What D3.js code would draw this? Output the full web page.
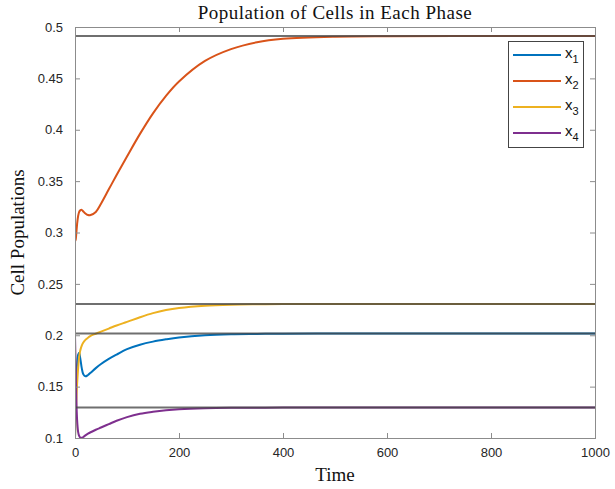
<!DOCTYPE html>
<html>
<head>
<meta charset="utf-8">
<script src="https://cdn.jsdelivr.net/npm/d3@7"></script>
<style>
  body { margin: 0; background: #fff; }
  svg { display: block; }
</style>
</head>
<body>
<script>
// ---- data ----
const time = [0, 1, 2, 4, 6, 8, 10, 13, 16, 20, 25, 30, 40, 50, 65, 80, 100, 125, 150, 175, 200, 250, 300, 350, 400, 500, 600, 800, 1000];
const x1 = [0.100, 0.125, 0.150, 0.172, 0.181, 0.183, 0.178, 0.168, 0.162, 0.160, 0.1613, 0.1635, 0.1680, 0.1720, 0.1770, 0.1812, 0.1865, 0.1908, 0.1938, 0.1960, 0.1978, 0.2000, 0.2010, 0.2013, 0.2015, 0.2016, 0.2016, 0.2016, 0.2016];
const x2 = [0.300, 0.292, 0.296, 0.308, 0.316, 0.320, 0.3215, 0.322, 0.3205, 0.3185, 0.317, 0.317, 0.320, 0.328, 0.342, 0.356, 0.374, 0.396, 0.416, 0.433, 0.447, 0.467, 0.4785, 0.4852, 0.4885, 0.4906, 0.4911, 0.4912, 0.4912];
const x3 = [0.100, 0.115, 0.130, 0.152, 0.168, 0.179, 0.185, 0.190, 0.193, 0.1955, 0.1975, 0.1995, 0.2015, 0.2035, 0.2065, 0.2095, 0.213, 0.2175, 0.2215, 0.2245, 0.2265, 0.2287, 0.2297, 0.2301, 0.2303, 0.2303, 0.2303, 0.2303, 0.2303];
const x4 = [0.200, 0.175, 0.150, 0.118, 0.106, 0.102, 0.1005, 0.1002, 0.101, 0.1025, 0.1042, 0.1056, 0.1080, 0.1102, 0.1135, 0.1168, 0.1203, 0.1235, 0.1255, 0.1270, 0.1280, 0.1290, 0.1294, 0.1295, 0.1296, 0.1296, 0.1296, 0.1296, 0.1296];
const steadyStates = [0.4912, 0.2303, 0.2016, 0.1296];
const seriesNames = ["x1", "x2", "x3", "x4"];
const seriesColors = ["#0072BD", "#D95319", "#EDB120", "#7E2F8E"];
const xTicks = [0, 200, 400, 600, 800, 1000];
const yTicks = [0.1, 0.15, 0.2, 0.25, 0.3, 0.35, 0.4, 0.45, 0.5];
const titleText = "Population of Cells in Each Phase";
const xLabel = "Time";
const yLabel = "Cell Populations";

// ---- layout ----
const W = 615, H = 489;
const m = { left: 75, right: 20, top: 27, bottom: 51 };
const pw = W - m.left - m.right, ph = H - m.top - m.bottom;

const svg = d3.select("body").append("svg").attr("width", W).attr("height", H);
const g = svg.append("g").attr("transform", `translate(${m.left},${m.top})`);

const x = d3.scaleLinear().domain([0, 1000]).range([0, pw]);
const y = d3.scaleLinear().domain([0.1, 0.5]).range([ph, 0]);

g.append("rect").attr("width", pw).attr("height", ph).attr("fill", "#fff");

svg.append("clipPath").attr("id", "clip").append("rect").attr("width", pw).attr("height", ph);

const series = [x1, x2, x3, x4];
const line = d3.line().x(d => x(d[0])).y(d => y(d[1])).curve(d3.curveCatmullRom.alpha(0.5));
const plot = g.append("g").attr("clip-path", "url(#clip)");
series.forEach((s, i) => {
  plot.append("path")
    .datum(time.map((t, k) => [t, s[k]]))
    .attr("d", line)
    .attr("fill", "none")
    .attr("stroke", seriesColors[i])
    .attr("stroke-width", 2)
    .attr("stroke-linejoin", "round");
});

// steady-state reference lines
plot.selectAll("line.ss").data(steadyStates).enter().append("line")
  .attr("class", "ss")
  .attr("x1", 0).attr("x2", pw)
  .attr("y1", d => y(d)).attr("y2", d => y(d))
  .attr("stroke", "rgb(70,70,70)")
  .attr("stroke-opacity", 0.78)
  .attr("stroke-width", 2);

// axes (ticks inward, box on)
const axisColor = "#8c8c8c";
const tickFont = "13px 'Liberation Sans', Arial, sans-serif";
function styleAxis(sel, showLabels) {
  sel.select(".domain").remove();
  sel.selectAll(".tick line").attr("stroke", axisColor);
  sel.selectAll(".tick text").style("font", tickFont).attr("fill", "#262626");
  if (!showLabels) sel.selectAll(".tick text").remove();
}
const xb = g.append("g").attr("transform", `translate(0,${ph})`)
  .call(d3.axisBottom(x).tickValues(xTicks).tickSize(-5).tickPadding(10).tickFormat(d3.format("d")));
styleAxis(xb, true);
const xt = g.append("g").call(d3.axisTop(x).tickValues(xTicks).tickSize(-5));
styleAxis(xt, false);
const yl = g.append("g")
  .call(d3.axisLeft(y).tickValues(yTicks).tickSize(-5).tickPadding(12).tickFormat(d => String(+d.toFixed(2))));
styleAxis(yl, true);
const yr = g.append("g").attr("transform", `translate(${pw},0)`)
  .call(d3.axisRight(y).tickValues(yTicks).tickSize(-5));
styleAxis(yr, false);

g.append("rect").attr("x", 0.5).attr("y", 0.5).attr("width", pw).attr("height", ph)
  .attr("fill", "none").attr("stroke", axisColor).attr("stroke-width", 1);

// titles
const serif = "'Liberation Serif', 'Times New Roman', serif";
svg.append("text").attr("x", m.left + pw / 2).attr("y", 19)
  .attr("text-anchor", "middle")
  .style("font", `19px ${serif}`).style("letter-spacing", "0.5px").attr("fill", "#111")
  .text(titleText);
svg.append("text").attr("x", m.left + pw / 2).attr("y", 481)
  .attr("text-anchor", "middle")
  .style("font", `19px ${serif}`).attr("fill", "#111")
  .text(xLabel);
svg.append("text").attr("transform", `translate(24,${m.top + ph / 2}) rotate(-90)`)
  .attr("text-anchor", "middle")
  .style("font", `19px ${serif}`).attr("fill", "#111")
  .text(yLabel);

// legend
const lg = svg.append("g").attr("transform", "translate(508,41)");
lg.append("rect").attr("x", 0.5).attr("y", 0.5).attr("width", 75).attr("height", 106)
  .attr("fill", "#fff").attr("stroke", "#444").attr("stroke-width", 1);
seriesNames.forEach((n, i) => {
  const yy = 14 + i * 26;
  lg.append("line").attr("x1", 5).attr("x2", 53).attr("y1", yy).attr("y2", yy)
    .attr("stroke", seriesColors[i]).attr("stroke-width", 2);
  const t = lg.append("text").attr("x", 57).attr("y", yy + 3)
    .style("font", "15px 'Liberation Sans', Arial, sans-serif").attr("fill", "#111");
  t.append("tspan").text(n[0]);
  t.append("tspan").attr("dy", 5).style("font-size", "11px").text(n.slice(1));
});
</script>
</body>
</html>
